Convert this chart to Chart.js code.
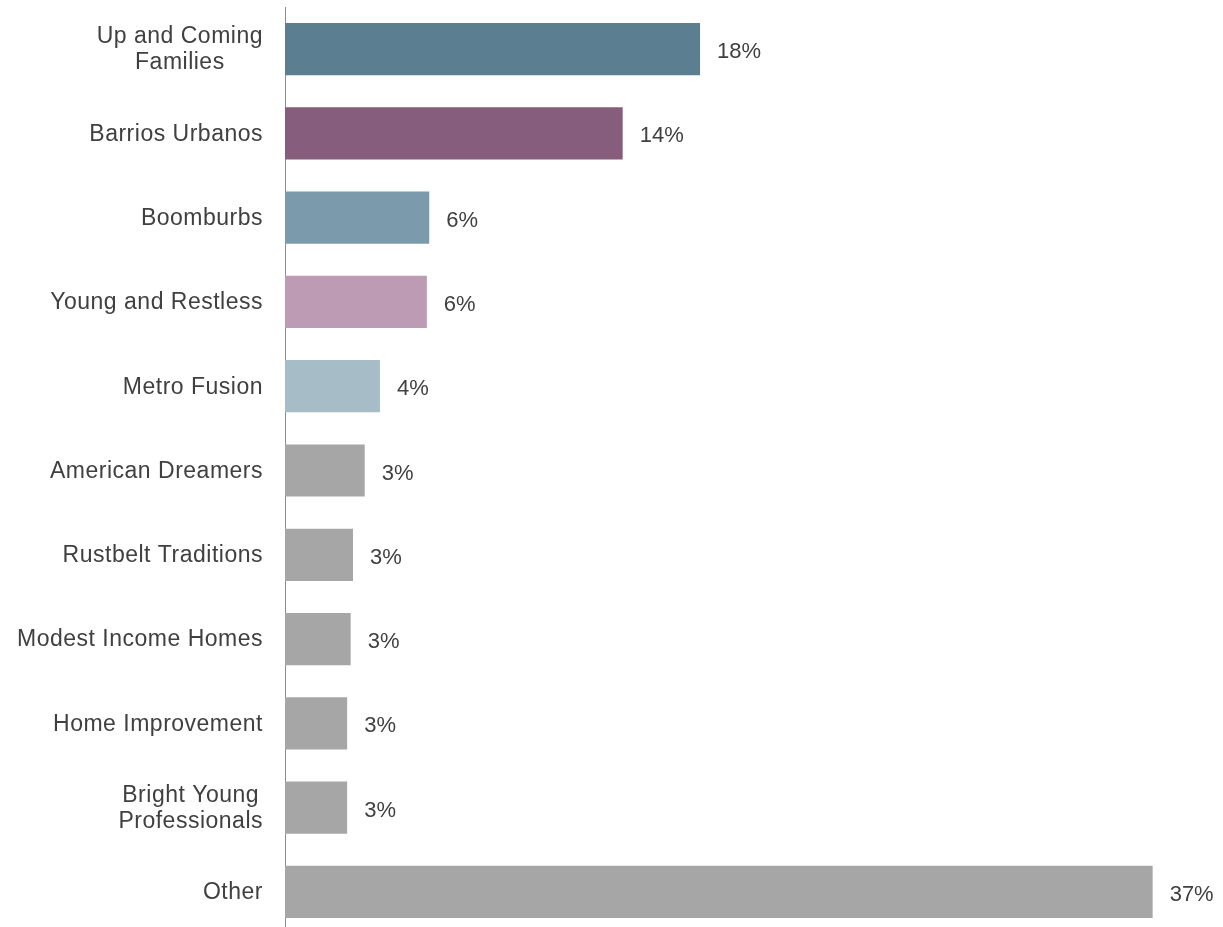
<!DOCTYPE html>
<html>
<head>
<meta charset="utf-8">
<script src="https://cdn.jsdelivr.net/npm/chart.js@4/dist/chart.umd.min.js"></script>
<style>
  html, body { margin: 0; padding: 0; background: #fff; overflow: hidden; }
  canvas { display: block; }
</style>
</head>
<body>
<!-- a little taller than the window: the axis runs off the bottom like the original -->
<canvas id="chart" width="1223" height="934"></canvas>
<script>
// data
const segments = [
  ['Up and Coming', 'Families'],
  'Barrios Urbanos',
  'Boomburbs',
  'Young and Restless',
  'Metro Fusion',
  'American Dreamers',
  'Rustbelt Traditions',
  'Modest Income Homes',
  'Home Improvement',
  ['Bright Young', 'Professionals'],
  'Other'
];
const shares = [17.7, 14.4, 6.15, 6.05, 4.05, 3.4, 2.9, 2.8, 2.65, 2.65, 37];
const shareLabels = ['18%', '14%', '6%', '6%', '4%', '3%', '3%', '3%', '3%', '3%', '37%'];
const barColors = ['#5b7e91', '#865d7c', '#7b9aab', '#bd9bb5', '#a6bcc7',
  '#a6a6a6', '#a6a6a6', '#a6a6a6', '#a6a6a6', '#a6a6a6', '#a6a6a6'];

const FONT = '"Liberation Sans", Arial, sans-serif';
const TEXT = '#404040';

// category names: right edge near the axis, wrapped lines centred on each other
const categoryLabels = {
  id: 'categoryLabels',
  afterDraw(chart) {
    const c = chart.ctx;
    const y = chart.scales.y;
    const right = y.right - 22;
    const lineH = 26;
    c.save();
    c.letterSpacing = '0.5px';
    c.font = '23px ' + FONT;
    c.fillStyle = TEXT;
    c.textAlign = 'center';
    c.textBaseline = 'middle';
    segments.forEach((lab, i) => {
      const lines = Array.isArray(lab) ? lab : [lab];
      const w = Math.max(...lines.map(l => c.measureText(l).width));
      const cx = right - w / 2;
      const cy = y.getPixelForTick(i) + 1;
      lines.forEach((l, k) => {
        c.fillText(l, cx, cy + (k - (lines.length - 1) / 2) * lineH);
      });
    });
    c.restore();
  }
};

// draws the % next to each bar
const valueLabels = {
  id: 'valueLabels',
  afterDatasetsDraw(chart) {
    const c = chart.ctx;
    const meta = chart.getDatasetMeta(0);
    c.save();
    c.font = '22px ' + FONT;
    c.fillStyle = TEXT;
    c.textAlign = 'left';
    c.textBaseline = 'middle';
    meta.data.forEach((bar, i) => {
      c.fillText(shareLabels[i], bar.x + 17, bar.y + 3);
    });
    c.restore();
  }
};

const ctx = document.getElementById('chart');
new Chart(ctx, {
  type: 'bar',
  data: {
    labels: segments,
    datasets: [{
      data: shares,
      backgroundColor: barColors,
      barPercentage: 0.62,
      categoryPercentage: 1
    }]
  },
  plugins: [categoryLabels, valueLabels],
  options: {
    indexAxis: 'y',
    responsive: false,
    animation: false,
    layout: { padding: { top: 7, bottom: 0, left: 0, right: 0 } },
    plugins: {
      legend: { display: false },
      tooltip: { enabled: false }
    },
    scales: {
      x: {
        display: false,
        min: 0,
        max: 40
      },
      y: {
        grid: { display: false },
        border: { display: true, color: '#8c8c8c', width: 1 },
        ticks: { display: false },
        afterFit(scale) {
          scale.width = 285;
          scale.paddingTop = 0;
          scale.paddingBottom = 0;
        }
      }
    }
  }
});
</script>
</body>
</html>
